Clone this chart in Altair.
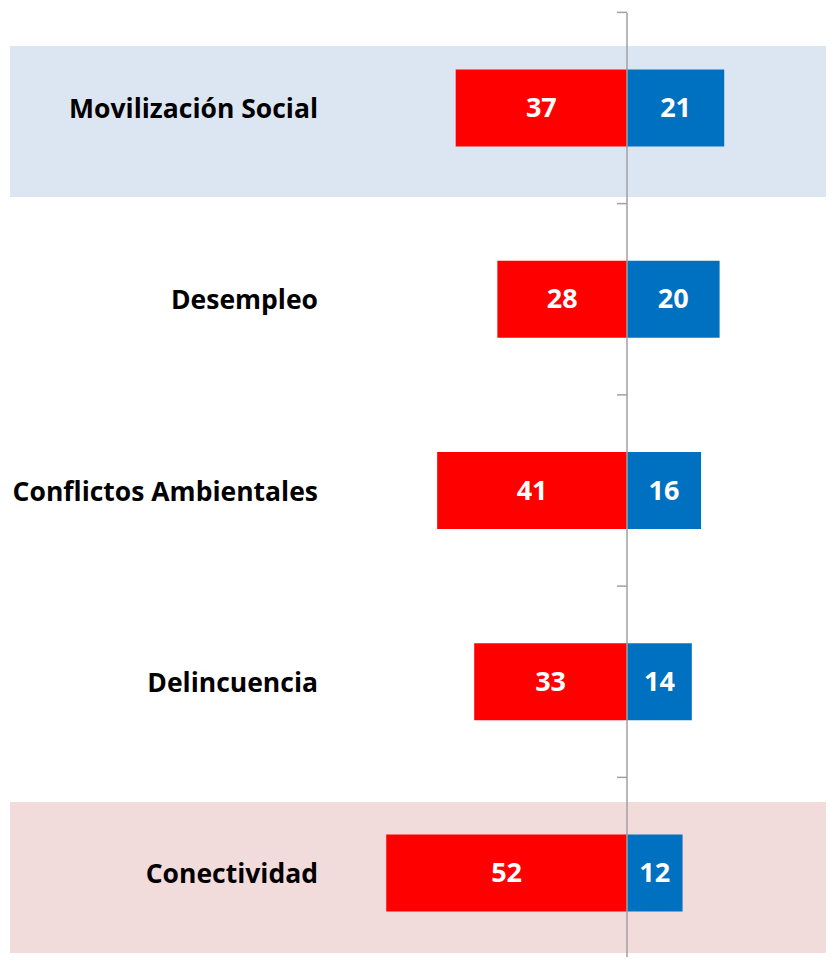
import altair as alt
import pandas as pd

categories = ["Movilización Social", "Desempleo\u00a0", "Conflictos Ambientales", "Delincuencia", "Conectividad"]
neg_values = [37, 28, 41, 33, 52]
pos_values = [21, 20, 16, 14, 12]
band_rows = [0, 4]
band_colors = ["#dce6f2", "#f2dcdb"]

RED = "#ff0000"
BLUE = "#0070c0"
FONT = "Open Sans"

rows = list(range(len(categories)))
df = pd.DataFrame({"row": rows * 2,
                   "category": categories * 2,
                   "value": neg_values + pos_values,
                   "side": ["neg"] * len(rows) + ["pos"] * len(rows)})
lab = pd.DataFrame({"row": rows, "category": categories})

W, H = 818, 949
PX_PER_UNIT = 4.63
ZERO_X = 619
STEP = 191.25
D0 = -100 / STEP
xscale = alt.Scale(domain=[-ZERO_X / PX_PER_UNIT, (W - ZERO_X) / PX_PER_UNIT],
                   nice=False, zero=False, padding=0)
yscale = alt.Scale(domain=[D0, D0 + H / STEP], nice=False, zero=False, reverse=True, padding=0)

def Y(field="row:Q"):
    return alt.Y(field, scale=yscale, axis=None)

band1 = alt.Chart(pd.DataFrame({"row": [band_rows[0]]})).mark_rect(
    color=band_colors[0], yOffset=-62, y2Offset=89).encode(
    x=alt.value(2), x2=alt.value(W), y=Y(), y2="row:Q")
band2 = alt.Chart(pd.DataFrame({"row": [band_rows[1]]})).mark_rect(
    color=band_colors[1], yOffset=-71, y2Offset=80).encode(
    x=alt.value(2), x2=alt.value(W), y=Y(), y2="row:Q")

base = alt.Chart(df).transform_calculate(
    lo="datum.side == 'neg' ? -datum.value : 0",
    hi="datum.side == 'neg' ? 0 : datum.value",
    mid="datum.side == 'neg' ? -datum.value / 2 : datum.value / 2",
)

bars = base.mark_bar(orient="horizontal", size=77).encode(
    x=alt.X("lo:Q", scale=xscale, axis=None),
    x2="hi:Q",
    y=Y(),
    color=alt.Color("side:N", scale=alt.Scale(domain=["neg", "pos"], range=[RED, BLUE]), legend=None),
)

vals = base.mark_text(font=FONT, fontWeight="bold", fontSize=27, color="white",
                      align="center", baseline="middle", dy=1).encode(
    x=alt.X("mid:Q", scale=xscale, axis=None),
    y=Y(),
    text="value:Q",
)

labels = alt.Chart(lab).mark_text(font=FONT, fontWeight="bold", fontSize=26.5, color="black",
                                  align="right", baseline="middle", dy=2).encode(
    x=alt.value(310), y=Y(), text="category:N")

axis_line = alt.Chart(pd.DataFrame({"a": [0]})).mark_rule(color="#a0a0a0", strokeWidth=1.5).encode(
    x=alt.X(datum=0, type="quantitative", scale=xscale, axis=None),
    y=alt.value(5), y2=alt.value(H))

ticks = alt.Chart(lab).transform_calculate(b="datum.row - 0.5").mark_rule(
    color="#a0a0a0", strokeWidth=1.5, xOffset=-10).encode(
    x=alt.X(datum=0, type="quantitative", scale=xscale, axis=None),
    x2=alt.X2(datum=0),
    y=Y("b:Q"))

chart = alt.layer(band1, band2, bars, axis_line, ticks, vals, labels).properties(
    width=W, height=H, padding=0
).configure_view(stroke=None)

chart.save("out.html", embed_options={"renderer": "svg", "actions": False})
